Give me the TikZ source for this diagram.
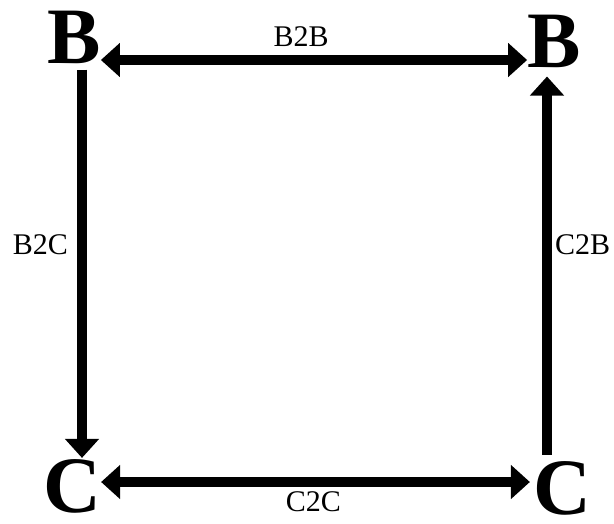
\documentclass[tikz,border=0pt]{standalone}
\usepackage{fontspec}
\setmainfont{Liberation Serif}
\usetikzlibrary{arrows.meta}

\begin{document}
\begin{tikzpicture}[x=1pt,y=-1pt,
  party/.style={font=\fontsize{80}{80}\selectfont\bfseries,inner sep=0pt},
  lbl/.style={font=\fontsize{30}{30}\selectfont,inner sep=0pt},
  arr/.style={-{Triangle[length=19pt,width=33pt]},line width=10pt},
  darr/.style={{Triangle[length=19pt,width=33pt]}-{Triangle[length=19pt,width=33pt]},line width=10pt}]
\useasboundingbox (0,0) rectangle (614,523);
\node[party] (b1) at (74,37) {B};
\node[party] (b2) at (554,41) {B};
\node[party] (c1) at (72,486) {C};
\node[party] (c2) at (562,488) {C};
\draw[darr] ([yshift=-23pt]b1.east) -- node[lbl,above=8pt,pos=0.47] (b2b) {B2B} ([yshift=-23pt]b1.east -| b2.west);
\draw[darr] ([yshift=4pt]c1.east) -- node[lbl,below=5pt,pos=0.495] (c2c) {C2C} ([yshift=4pt,xshift=-3pt]c1.east -| c2.west);
\draw[arr,shorten <=6pt] ([xshift=8pt]b1.south) -- node[lbl,left=9pt,pos=0.46] (b2c) {B2C} ([xshift=8pt,yshift=1pt]b1.south |- c1.north);
\draw[arr,shorten <=6pt,shorten >=9pt] ([xshift=-15pt]c2.north) -- node[lbl,right=3pt,pos=0.55] (c2b) {C2B} ([xshift=-15pt]c2.north |- b2.south);
\end{tikzpicture}
\end{document}
